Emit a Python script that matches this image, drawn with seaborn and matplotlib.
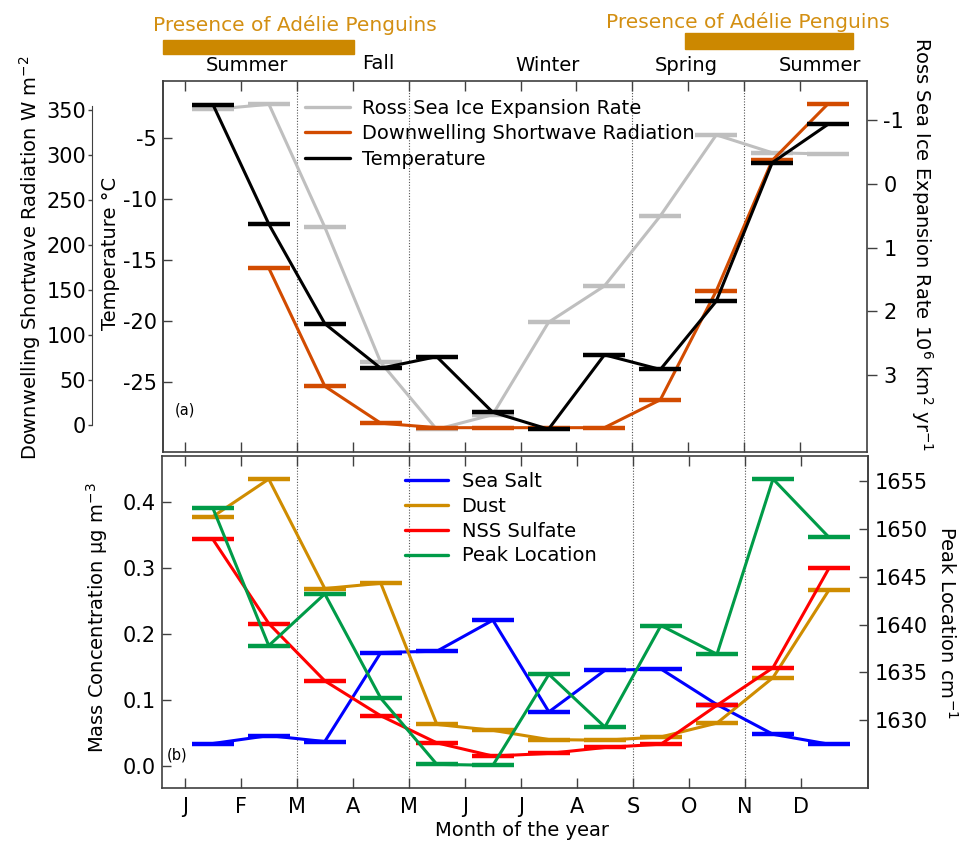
import numpy as np
import pandas as pd
import matplotlib
matplotlib.use("Agg")
import matplotlib.pyplot as plt
import seaborn as sns
from matplotlib.lines import Line2D
from matplotlib.patches import Rectangle
import matplotlib.transforms as mtransforms

sns.set_style("ticks")
plt.rcParams["font.family"] = ["DejaVu Sans"]
plt.rcParams["axes.unicode_minus"] = False
plt.rcParams["mathtext.default"] = "regular"
plt.rcParams["text.color"] = "black"
plt.rcParams["axes.labelcolor"] = "black"
plt.rcParams["xtick.color"] = "black"
plt.rcParams["ytick.color"] = "black"
plt.rcParams["xtick.labelcolor"] = "black"
plt.rcParams["ytick.labelcolor"] = "black"

# ---------------- data ----------------
month_centers = [1.5, 2.5, 3.5, 4.5, 5.5, 6.5, 7.5, 8.5, 9.5, 10.5, 11.5, 12.5]
month_ticks = [1, 2, 3, 4, 5, 6, 7, 8, 9, 10, 11, 12]
month_labels = ["J", "F", "M", "A", "M", "J", "J", "A", "S", "O", "N", "D"]
season_boundaries = [3, 5, 9, 11]
season_labels = ["Summer", "Fall", "Winter", "Spring", "Summer"]
season_x = [2.10, 4.45, 7.49, 9.97, 12.36]
penguin_spans = [(0.6, 4.03), (9.94, 12.94)]

ross_ice_rate = [-1.17, -1.25, 0.68, 2.80, 3.85, 3.62, 2.17, 1.60, 0.50, -0.77, -0.49, -0.47]
shortwave = [np.nan, 174, 43, 2, -3, -3, -3, -3, 28, 149, 294, 357]
temperature = [-2.3, -12.1, -20.25, -23.9, -22.95, -27.5, -28.9, -22.8, -24.0, -18.4, -7.05, -3.9]

sea_salt = [0.034, 0.046, 0.037, 0.172, 0.174, 0.221, 0.082, 0.145, 0.147, 0.093, 0.048, 0.033]
dust = [0.378, 0.435, 0.269, 0.277, 0.063, 0.054, 0.040, 0.039, 0.044, 0.065, 0.134, 0.267]
nss_sulfate = [0.344, 0.216, 0.129, 0.076, 0.035, 0.015, 0.019, 0.028, 0.033, 0.092, 0.149, 0.300]
peak_location = [1652.2, 1637.8, 1643.2, 1632.3, 1625.4, 1625.3, 1634.8, 1629.3, 1639.9, 1636.9, 1655.2, 1649.1]

C_GRAY = "#bfbfbf"
C_ORANGE = "#d24b00"
C_BLACK = "#000000"
C_BLUE = "#0000ff"
C_DUST = "#cf8c00"
C_RED = "#ff0000"
C_GREEN = "#009b48"
C_PENG = "#cc8800"
C_PENG_TXT = "#d38f12"
C_SPINE = "#404040"

W, H = 967, 844
fig = plt.figure(figsize=(W / 100, H / 100), dpi=100)


def px_rect(x0, y0, x1, y1):
    return [x0 / W, 1 - y1 / H, (x1 - x0) / W, (y1 - y0) / H]


def draw(ax, y, color):
    df = pd.DataFrame({"month": month_centers, "val": y}).dropna()
    sns.lineplot(data=df, x="month", y="val", ax=ax, color=color, lw=2.2,
                 marker="_", markersize=30, markeredgewidth=3.2,
                 markeredgecolor=color, estimator=None, legend=False)
    ax.set_xlabel("")
    ax.set_ylabel("")


XLIM = (0.6, 13.19)

# ---------------- top panel ----------------
axR = fig.add_axes(px_rect(162.7, 80.7, 866.7, 451.7))
axD = axR.twinx()
axT = axR.twinx()

draw(axR, ross_ice_rate, C_GRAY)
draw(axD, shortwave, C_ORANGE)
draw(axT, temperature, C_BLACK)

for ax in (axR, axD, axT):
    ax.set_xlim(*XLIM)
axR.set_ylim(4.20, -1.62)
axD.set_ylim(-29.7, 382.6)
axT.set_ylim(-30.74, -0.33)

axR.yaxis.tick_right()
axR.yaxis.set_label_position("right")
axR.set_yticks([-1, 0, 1, 2, 3])
axR.set_xticks(month_ticks)
axR.set_xticklabels([])
axR.tick_params(axis="x", which="both", direction="in", length=7, width=1,
                top=True, bottom=True, labelbottom=False, color=C_SPINE)
axR.tick_params(axis="y", direction="out", length=7, width=1, right=True,
                left=False, labelright=True, labelleft=False, pad=5,
                labelsize=15, color=C_SPINE)
for s in axR.spines.values():
    s.set_color(C_SPINE)
    s.set_linewidth(1.2)

axD.yaxis.tick_left()
axD.spines["left"].set_position(("outward", 51))
axD.spines["left"].set_bounds(0, 355)
axD.spines["left"].set_color(C_SPINE)
for k in ("right", "top", "bottom"):
    axD.spines[k].set_visible(False)
axD.set_yticks(np.arange(0, 351, 50))
axD.tick_params(axis="y", direction="out", length=3, width=1, pad=1,
                labelsize=15, left=True, right=False, labelleft=True,
                labelright=False, color=C_SPINE)

axT.yaxis.tick_left()
for k in ("right", "top", "bottom"):
    axT.spines[k].set_visible(False)
axT.spines["left"].set_color(C_SPINE)
axT.spines["left"].set_linewidth(1.2)
axT.set_yticks([-25, -20, -15, -10, -5])
axT.tick_params(axis="y", direction="in", length=6.5, width=1, pad=4.3,
                labelsize=15, left=True, right=False, labelleft=True,
                labelright=False, color=C_SPINE)

for xb in season_boundaries:
    axR.axvline(xb, color="#555555", lw=0.8, ls=(0, (1, 1.5)), zorder=0)

axT.text(0.0175, 0.112, "(a)", transform=axT.transAxes, fontsize=10.5,
         ha="left", va="center")

top_handles = [Line2D([], [], color=C_GRAY, lw=2.4),
               Line2D([], [], color=C_ORANGE, lw=2.4),
               Line2D([], [], color=C_BLACK, lw=2.4)]
top_labels = ["Ross Sea Ice Expansion Rate", "Downwelling Shortwave Radiation",
              "Temperature"]
axT.legend(top_handles, top_labels, loc="upper left",
           bbox_to_anchor=(0.2021, 0.9515), frameon=False, fontsize=14,
           handlelength=2.3, handletextpad=0.62, labelspacing=0.33,
           borderpad=0, borderaxespad=0)

# season labels and penguin bars
blend = mtransforms.blended_transform_factory(axR.transData, fig.transFigure)
for lab, sx in zip(season_labels, season_x):
    yb = 69 if lab == "Fall" else 71
    fig.text(sx, 1 - yb / H, lab, transform=blend, fontsize=14,
             ha="center", va="baseline")

peng_y = [(40, 54), (33.3, 49.3)]
peng_text = [(2.97, 25), (11.06, 21.7)]
for (x0, x1), (yt, yb), (tx, ty) in zip(penguin_spans, peng_y, peng_text):
    fig.add_artist(Rectangle((x0, 1 - yb / H), x1 - x0, (yb - yt) / H,
                             transform=blend, color=C_PENG, clip_on=False))
    fig.text(tx, 1 - ty / H, "Presence of Adélie Penguins", transform=blend,
             fontsize=14.5, color=C_PENG_TXT, ha="center", va="center")

# ---------------- bottom panel ----------------
axM = fig.add_axes(px_rect(162.3, 456, 867.7, 788.3))
axP = axM.twinx()

draw(axM, sea_salt, C_BLUE)
draw(axM, dust, C_DUST)
draw(axM, nss_sulfate, C_RED)
draw(axP, peak_location, C_GREEN)

axM.set_xlim(*XLIM)
axP.set_xlim(*XLIM)
axM.set_ylim(-0.0339, 0.470)
axP.set_ylim(1622.9, 1657.6)

axM.set_xticks(month_ticks)
axM.set_xticklabels(month_labels)
axM.tick_params(axis="x", direction="in", length=7, width=1, top=True,
                bottom=True, labelsize=15, pad=6.5, color=C_SPINE)
axM.set_yticks([0.0, 0.1, 0.2, 0.3, 0.4])
axM.set_yticklabels(["0.0", "0.1", "0.2", "0.3", "0.4"])
axM.tick_params(axis="y", direction="in", length=6.5, width=1, pad=5,
                labelsize=15, color=C_SPINE)
for s in axM.spines.values():
    s.set_color(C_SPINE)
    s.set_linewidth(1.2)

axP.set_yticks([1630, 1635, 1640, 1645, 1650, 1655])
axP.tick_params(axis="y", direction="in", length=6.5, width=1, pad=5,
                labelsize=15, color=C_SPINE)
for k in ("left", "top", "bottom"):
    axP.spines[k].set_visible(False)
axP.spines["right"].set_color(C_SPINE)
axP.spines["right"].set_linewidth(1.2)

for xb in season_boundaries:
    axM.axvline(xb, color="#555555", lw=0.8, ls=(0, (1, 1.5)), zorder=0)

axM.text(0.0067, 0.1002, "(b)", transform=axM.transAxes, fontsize=10.5,
         ha="left", va="center")

bot_handles = [Line2D([], [], color=c, lw=2.4)
               for c in (C_BLUE, C_DUST, C_RED, C_GREEN)]
bot_labels = ["Sea Salt", "Dust", "NSS Sulfate", "Peak Location"]
axP.legend(bot_handles, bot_labels, loc="upper left",
           bbox_to_anchor=(0.3443, 0.9519), frameon=False, fontsize=14,
           handlelength=2.22, handletextpad=0.68, labelspacing=0.30,
           borderpad=0, borderaxespad=0)

# ---------------- axis labels ----------------
fig.text(30 / W, 1 - 258 / H, "Downwelling Shortwave Radiation W m$^{-2}$",
         rotation=90, fontsize=14, ha="center", va="center")
fig.text(110 / W, 1 - 253 / H, "Temperature °C", rotation=90, fontsize=14,
         ha="center", va="center")
fig.text(922 / W, 1 - 244 / H,
         "Ross Sea Ice Expansion Rate 10$^{6}$ km$^{2}$ yr$^{-1}$",
         rotation=270, fontsize=14, ha="center", va="center")
fig.text(97 / W, 1 - 618 / H, "Mass Concentration $\\mu$g m$^{-3}$",
         rotation=90, fontsize=14, ha="center", va="center")
fig.text(947 / W, 1 - 622 / H, "Peak Location cm$^{-1}$", rotation=270,
         fontsize=14, ha="center", va="center")
fig.text(522 / W, 1 - 830 / H, "Month of the year", fontsize=14,
         ha="center", va="center")

fig.savefig("out.png", dpi=100)
